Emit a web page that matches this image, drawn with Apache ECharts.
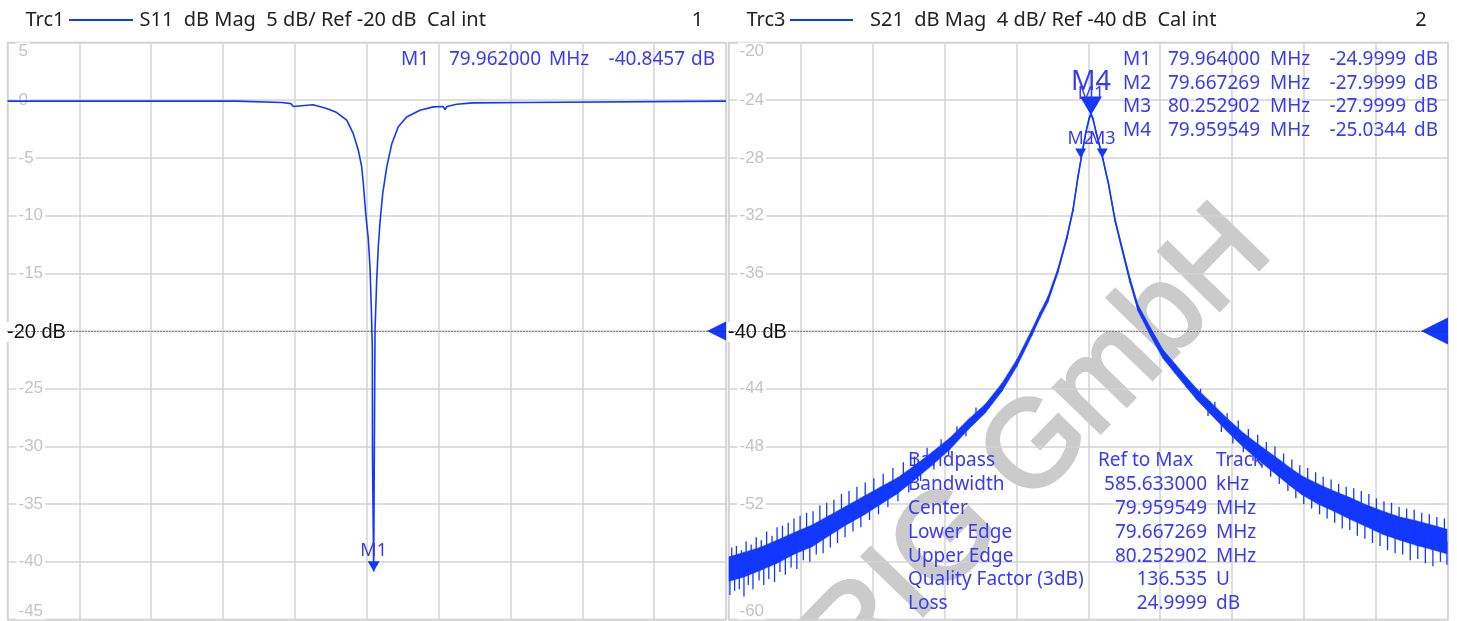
<!DOCTYPE html>
<html>
<head>
<meta charset="utf-8">
<script src="https://cdn.jsdelivr.net/npm/echarts@6/dist/echarts.min.js"></script>
<style>
  html, body { margin: 0; padding: 0; background: #fff; }
  #chart { width: 1457px; height: 621px; }
</style>
</head>
<body>
<div id="chart"></div>
<script>
// Trc1: S11, frequency in MHz, magnitude in dB
const s11Freq = [70.000, 76.380, 76.388, 77.633, 77.641, 77.891, 77.955, 78.003, 78.504, 78.885,
  79.164, 79.442, 79.626, 79.765, 79.860, 79.904, 79.979, 80.043, 80.091, 80.127,
  80.155, 80.160, 80.193, 80.210, 80.230, 80.277, 80.321, 80.369, 80.444, 80.556,
  80.695, 80.878, 81.112, 81.482, 81.852, 82.122, 82.178, 82.234, 82.504, 82.966,
  84.405, 84.452, 90.000];
const s11Db = [-0.08, -0.08, -0.2, -0.2, -0.3, -0.3, -0.55, -0.4, -0.4, -0.72,
  -1.07, -1.73, -2.9, -4.33, -5.78, -7.2, -10.1, -12.0, -14.5, -18.0,
  -21.4, -30.9, -40.85, -30.9, -20.0, -15.6, -12.7, -10.6, -8.1, -5.8,
  -3.8, -2.3, -1.45, -0.87, -0.58, -0.55, -0.8, -0.55, -0.35, -0.23,
  -0.2, -0.08, -0.08];

// Trc3: S21, centre of the trace and half width of its noise band (dB)
const s21Freq = [70.014, 70.431, 70.876, 71.348, 71.848, 72.321, 72.793, 73.266, 73.766, 74.239,
  74.711, 75.184, 75.684, 76.157, 76.657, 77.130, 77.602, 78.019, 78.436, 78.659,
  78.881, 79.159, 79.409, 79.576, 79.715, 79.826, 79.937, 80.021, 80.076, 80.132,
  80.215, 80.382, 80.563, 80.743, 80.980, 81.161, 81.383, 81.730, 82.078, 82.411,
  82.745, 83.023, 83.384, 83.857, 84.329, 84.830, 85.302, 85.608, 85.942, 86.387,
  86.831, 87.276, 87.721, 88.194, 88.666, 89.111, 89.556, 89.972];
const s21Db = [-56.5, -56.2, -55.8, -55.3, -54.7, -54.2, -53.5, -52.8, -52.1, -51.4,
  -50.7, -49.8, -48.8, -47.8, -46.5, -45.4, -43.9, -42.2, -40.1, -38.9,
  -37.8, -35.8, -33.5, -31.6, -29.3, -27.7, -26.2, -25.3, -24.95, -25.3,
  -26.2, -27.8, -29.8, -32.3, -34.7, -36.5, -38.4, -40.05, -41.6, -42.6,
  -43.6, -44.4, -45.3, -46.5, -47.6, -48.6, -49.5, -50.1, -50.7, -51.3,
  -51.8, -52.3, -52.8, -53.3, -53.7, -54.0, -54.3, -54.6];
const s21Noise = [0.85, 0.85, 0.8, 0.8, 0.75, 0.75, 0.7, 0.65, 0.65, 0.6,
  0.55, 0.5, 0.45, 0.4, 0.35, 0.3, 0.28, 0.25, 0.22, 0.2,
  0.2, 0.15, 0.12, 0.1, 0.08, 0.08, 0.08, 0.08, 0.08, 0.08,
  0.08, 0.08, 0.1, 0.12, 0.15, 0.18, 0.22, 0.28, 0.3, 0.33,
  0.35, 0.38, 0.42, 0.45, 0.5, 0.55, 0.6, 0.62, 0.65, 0.7,
  0.7, 0.75, 0.75, 0.8, 0.8, 0.85, 0.85, 0.85];
// single noise excursions of Trc3 reaching out of the band: [MHz, low dB, high dB]
const s21Spikes = [
  [70.04, -58.3, -56.5], [70.09, -56.5, -55.0], [70.17, -58.0, -56.4], [70.22, -56.4, -54.9],
  [70.30, -57.9, -56.3], [70.36, -56.3, -55.2], [70.43, -58.4, -56.2], [70.49, -56.2, -54.6],
  [70.55, -57.6, -56.1], [70.63, -56.0, -54.8], [70.68, -57.9, -56.0], [70.77, -55.9, -54.3],
  [70.85, -57.3, -55.8], [70.91, -55.8, -54.5], [70.98, -57.6, -55.7], [71.06, -55.6, -53.9],
  [71.12, -57.2, -55.5], [71.21, -55.4, -54.2], [71.28, -57.4, -55.3], [71.35, -55.3, -53.6],
  [71.43, -56.7, -55.1], [71.50, -55.0, -53.5], [71.58, -56.9, -54.9], [71.66, -54.8, -53.3],
  [71.74, -56.4, -54.7], [71.82, -54.6, -53.0], [71.90, -56.5, -54.5], [71.99, -54.4, -52.8],
  [72.08, -55.9, -54.3], [72.17, -54.2, -52.6], [72.26, -56.0, -54.1], [72.35, -54.0, -52.5],
  [72.44, -55.5, -53.9], [72.54, -53.8, -52.1], [72.63, -55.4, -53.6], [72.73, -53.5, -51.9],
  [72.83, -55.0, -53.4], [72.93, -53.2, -51.7], [73.03, -54.7, -53.1], [73.14, -52.9, -51.3],
  [73.24, -54.3, -52.8], [73.35, -52.7, -51.1], [73.46, -53.9, -52.5], [73.57, -52.3, -50.8],
  [73.68, -53.6, -52.2], [73.80, -52.0, -50.5], [73.92, -53.1, -51.9], [74.04, -51.7, -50.2],
  [74.17, -52.7, -51.5], [74.30, -51.3, -49.9], [74.43, -52.2, -51.1], [74.57, -50.9, -49.5],
  [74.71, -51.8, -50.7], [74.86, -50.4, -49.1], [75.01, -51.2, -50.2], [75.17, -49.8, -48.7],
  [75.34, -50.4, -49.5], [75.52, -49.1, -48.1], [75.71, -49.6, -48.7], [75.91, -48.3, -47.5],
  [76.12, -48.6, -47.8], [76.35, -47.3, -46.6], [76.60, -47.3, -46.6], [76.88, -46.0, -45.3],
  [83.12, -44.7, -44.0], [83.33, -45.9, -45.2], [83.52, -45.7, -44.9], [83.70, -47.0, -46.2],
  [83.86, -46.6, -45.7], [84.02, -47.8, -46.9], [84.17, -47.2, -46.2], [84.31, -48.4, -47.5],
  [84.45, -47.8, -46.8], [84.58, -49.0, -48.0], [84.71, -48.3, -47.2], [84.83, -49.5, -48.5],
  [84.95, -48.8, -47.7], [85.07, -50.1, -49.0], [85.19, -49.3, -48.0], [85.31, -50.6, -49.5],
  [85.43, -49.8, -48.5], [85.55, -51.1, -49.9], [85.66, -50.2, -48.9], [85.77, -51.6, -50.3],
  [85.88, -50.6, -49.3], [85.99, -52.0, -50.8], [86.10, -50.9, -49.5], [86.21, -52.3, -51.0],
  [86.32, -51.2, -49.8], [86.43, -52.7, -51.4], [86.53, -51.5, -50.1], [86.64, -53.0, -51.6],
  [86.75, -51.7, -50.3], [86.85, -53.3, -51.9], [86.96, -52.0, -50.6], [87.06, -53.7, -52.0],
  [87.17, -52.2, -50.8], [87.27, -53.8, -52.3], [87.38, -52.4, -50.9], [87.48, -54.2, -52.5],
  [87.59, -52.6, -51.1], [87.69, -54.4, -52.7], [87.80, -52.8, -51.3], [87.90, -54.7, -53.0],
  [88.01, -53.1, -51.6], [88.11, -54.9, -53.2], [88.22, -53.3, -51.8], [88.32, -55.2, -53.4],
  [88.43, -53.5, -51.9], [88.53, -55.4, -53.5], [88.64, -53.7, -52.2], [88.74, -55.5, -53.7],
  [88.85, -53.8, -52.3], [88.95, -55.9, -53.9], [89.06, -54.0, -52.4], [89.16, -55.8, -54.0],
  [89.27, -54.1, -52.6], [89.37, -56.1, -54.2], [89.48, -54.2, -52.7], [89.58, -56.3, -54.3],
  [89.69, -54.4, -52.9], [89.79, -56.0, -54.4], [89.90, -54.5, -53.0], [89.97, -56.2, -54.6]
];

// markers: name, frequency (MHz, as drawn), level (dB), label font size, triangle size
const s11Markers = [["M1", 80.193, -40.8457, 18, 12]];
const s21Markers = [["M4", 80.076, -25.0344, 27, 22], ["M1", 80.076, -24.9999, 18, 13],
  ["M2", 79.790, -27.9999, 18, 11], ["M3", 80.390, -27.9999, 18, 11]];

// readout texts
const s11Readout = [["M1", "79.962000", "MHz", "-40.8457", "dB"]];
const s21Readout = [
  ["M1", "79.964000", "MHz", "-24.9999", "dB"],
  ["M2", "79.667269", "MHz", "-27.9999", "dB"],
  ["M3", "80.252902", "MHz", "-27.9999", "dB"],
  ["M4", "79.959549", "MHz", "-25.0344", "dB"]
];
const bandpassRows = [
  ["Bandpass", "Ref to Max", "Track"],
  ["Bandwidth", "585.633000", "kHz"],
  ["Center", "79.959549", "MHz"],
  ["Lower Edge", "79.667269", "MHz"],
  ["Upper Edge", "80.252902", "MHz"],
  ["Quality Factor (3dB)", "136.535", "U"],
  ["Loss", "24.9999", "dB"]
];
const headerText = ["S11  dB Mag  5 dB/ Ref -20 dB  Cal int", "S21  dB Mag  4 dB/ Ref -40 dB  Cal int"];
const traceNames = ["Trc1", "Trc3"];
const channelNo = ["1", "2"];
const refLevels = [-20, -40];

const TRACE = "#1238ff";
const TEXT = "#3a3af5";
const GRID = "#d3d3d3";
const FONT = '"Noto Sans", sans-serif';
const ARIAL = '"Liberation Sans", Arial, sans-serif';

const chart = echarts.init(document.getElementById("chart"));

function yAxisFor(gridIndex, min, max, interval) {
  return {
    gridIndex, type: "value", min, max, interval,
    axisLine: { show: false }, axisTick: { show: false },
    splitLine: { lineStyle: { color: GRID, width: 1.5 } },
    axisLabel: {
      inside: true, margin: 9, color: "#c4c4c4", fontSize: 17, fontFamily: ARIAL,
      backgroundColor: "#fff", padding: [0, 2],
      verticalAlignMinLabel: "bottom", verticalAlignMaxLabel: "top"
    },
    z: 1
  };
}
function xAxisFor(gridIndex) {
  return {
    gridIndex, type: "value", min: 70, max: 90, interval: 2,
    axisLine: { show: false }, axisTick: { show: false }, axisLabel: { show: false },
    splitLine: { lineStyle: { color: GRID, width: 1.5 } }
  };
}

function markerSeries(markers, axisIndex) {
  return markers.map((m) => ({
    type: "scatter", xAxisIndex: axisIndex, yAxisIndex: axisIndex,
    data: [[m[1], m[2]]],
    symbol: "triangle", symbolRotate: 180,
    symbolSize: [m[4], m[4] * 0.85],
    symbolOffset: [0, -m[4] * 0.425],
    itemStyle: { color: TRACE, opacity: 1 },
    label: {
      show: true, position: "top", distance: 1, formatter: m[0],
      color: TEXT, fontSize: m[3], fontFamily: FONT
    },
    clip: false, silent: true, z: 5
  }));
}

function refSeries(level, axisIndex, size) {
  return {
    type: "scatter", xAxisIndex: axisIndex, yAxisIndex: axisIndex,
    data: [[90, level]],
    symbol: "triangle", symbolRotate: 90, symbolSize: [size, size],
    symbolOffset: [-size / 2, 0],
    itemStyle: { color: TRACE, opacity: 1 },
    markLine: {
      silent: true, symbol: "none", label: { show: false },
      lineStyle: { color: "#222", type: [1, 2], width: 1 },
      data: [{ yAxis: level }]
    },
    clip: false, silent: true, z: 4
  };
}

// noise band of Trc3: one quad per pair of neighbouring points
const s21Band = s21Freq.slice(0, -1).map((f, i) => [
  f, s21Db[i] - s21Noise[i], s21Db[i] + s21Noise[i],
  s21Freq[i + 1], s21Db[i + 1] - s21Noise[i + 1], s21Db[i + 1] + s21Noise[i + 1]
]);

// text overlays
const graphics = [];
function txt(text, x, y, opt) {
  graphics.push({
    type: "text", x, y, z: 3, silent: true,
    style: Object.assign({
      text, fill: TEXT, font: "19px " + FONT, align: "left", verticalAlign: "middle"
    }, opt || {})
  });
}
const headerTextX = [139.5, 870];
const headerLine = [[69, 133], [790, 853]];
const headerTrcX = [25.5, 746.5];
const headerNoX = [697.5, 1421];
headerText.forEach((h, i) => {
  const hdr = { fill: "#222", font: "20px " + FONT };
  txt(traceNames[i], headerTrcX[i], 20, hdr);
  graphics.push({ type: "line", z: 3,
    shape: { x1: headerLine[i][0], y1: 20, x2: headerLine[i][1], y2: 20 },
    style: { stroke: TRACE, lineWidth: 2 } });
  txt(h, headerTextX[i], 20, hdr);
  txt(channelNo[i], headerNoX[i], 20, Object.assign({}, hdr, { align: "center" }));
});
function readout(rows, cols, y0) {
  rows.forEach((r, i) => {
    const y = y0 + i * 23.6;
    txt(r[0], cols[0], y);
    txt(r[1], cols[1], y, { align: "right" });
    txt(r[2], cols[2], y);
    txt(r[3], cols[3], y, { align: "right" });
    txt(r[4], cols[4], y);
  });
}
readout(s11Readout, [401, 541, 549, 685, 691], 59.5);
readout(s21Readout, [1123, 1260, 1270, 1406, 1414], 59.5);
bandpassRows.forEach((r, i) => {
  const y = 461 + i * 23.8;
  txt(r[0], 908, y);
  if (i === 0) txt(r[1], 1098, y);
  else txt(r[1], 1207, y, { align: "right" });
  txt(r[2], 1216, y);
});
// reference level labels
txt(refLevels[0] + " dB", 6, 332, { fill: "#111", font: "20px " + ARIAL,
  backgroundColor: "#fff", padding: [0, 2, 0, 1] });
txt(refLevels[1] + " dB", 727, 332, { fill: "#111", font: "20px " + ARIAL,
  backgroundColor: "#fff", padding: [0, 2, 0, 1] });
// watermark
graphics.push({
  type: "text", x: 1250, y: 230, rotation: 0.80, z: 1, silent: true,
  style: { text: "RIG GmbH", fill: "#cbcbcb", font: "122px " + ARIAL,
    align: "right", verticalAlign: "middle", stroke: "#cbcbcb", lineWidth: 4 }
});

const option = {
  animation: false,
  backgroundColor: "#fff",
  grid: [
    { left: 7.5, top: 42.5, width: 718.5, height: 577, show: true, backgroundColor: "#fff",
      borderColor: GRID, borderWidth: 1.5, containLabel: false, outerBoundsMode: "none" },
    { left: 728.5, top: 42.5, width: 719.5, height: 577, show: true, backgroundColor: "#fff",
      borderColor: GRID, borderWidth: 1.5, containLabel: false, outerBoundsMode: "none" }
  ],
  xAxis: [xAxisFor(0), xAxisFor(1)],
  yAxis: [yAxisFor(0, -45, 5, 5), yAxisFor(1, -60, -20, 4)],
  graphic: graphics,
  series: [
    {
      type: "line", xAxisIndex: 0, yAxisIndex: 0, showSymbol: false, silent: true,
      data: s11Freq.map((f, i) => [f, s11Db[i]]),
      lineStyle: { color: TRACE, width: 1.6 }, z: 4
    },
    {
      type: "custom", xAxisIndex: 1, yAxisIndex: 1, silent: true, clip: true,
      data: s21Band,
      encode: { x: [0, 3], y: [1, 2, 4, 5] },
      renderItem: (params, api) => {
        const p = [
          api.coord([api.value(0), api.value(1)]),
          api.coord([api.value(0), api.value(2)]),
          api.coord([api.value(3), api.value(5)]),
          api.coord([api.value(3), api.value(4)])
        ];
        return { type: "polygon", shape: { points: p },
          style: { fill: TRACE, stroke: TRACE, lineWidth: 0.6 } };
      },
      z: 4
    },
    {
      type: "custom", xAxisIndex: 1, yAxisIndex: 1, silent: true, clip: true,
      data: s21Spikes,
      encode: { x: 0, y: [1, 2] },
      renderItem: (params, api) => {
        const a = api.coord([api.value(0), api.value(1)]);
        const b = api.coord([api.value(0), api.value(2)]);
        return { type: "line", shape: { x1: a[0], y1: a[1], x2: b[0], y2: b[1] },
          style: { stroke: TRACE, lineWidth: 1.3 } };
      },
      z: 4
    },
    {
      type: "line", xAxisIndex: 1, yAxisIndex: 1, showSymbol: false, silent: true,
      data: s21Freq.map((f, i) => [f, s21Db[i]]),
      lineStyle: { color: TRACE, width: 1.6 }, z: 4
    },
    refSeries(refLevels[0], 0, 19),
    refSeries(refLevels[1], 1, 27),
    ...markerSeries(s11Markers, 0),
    ...markerSeries(s21Markers, 1)
  ]
};
chart.setOption(option);
</script>
</body>
</html>
